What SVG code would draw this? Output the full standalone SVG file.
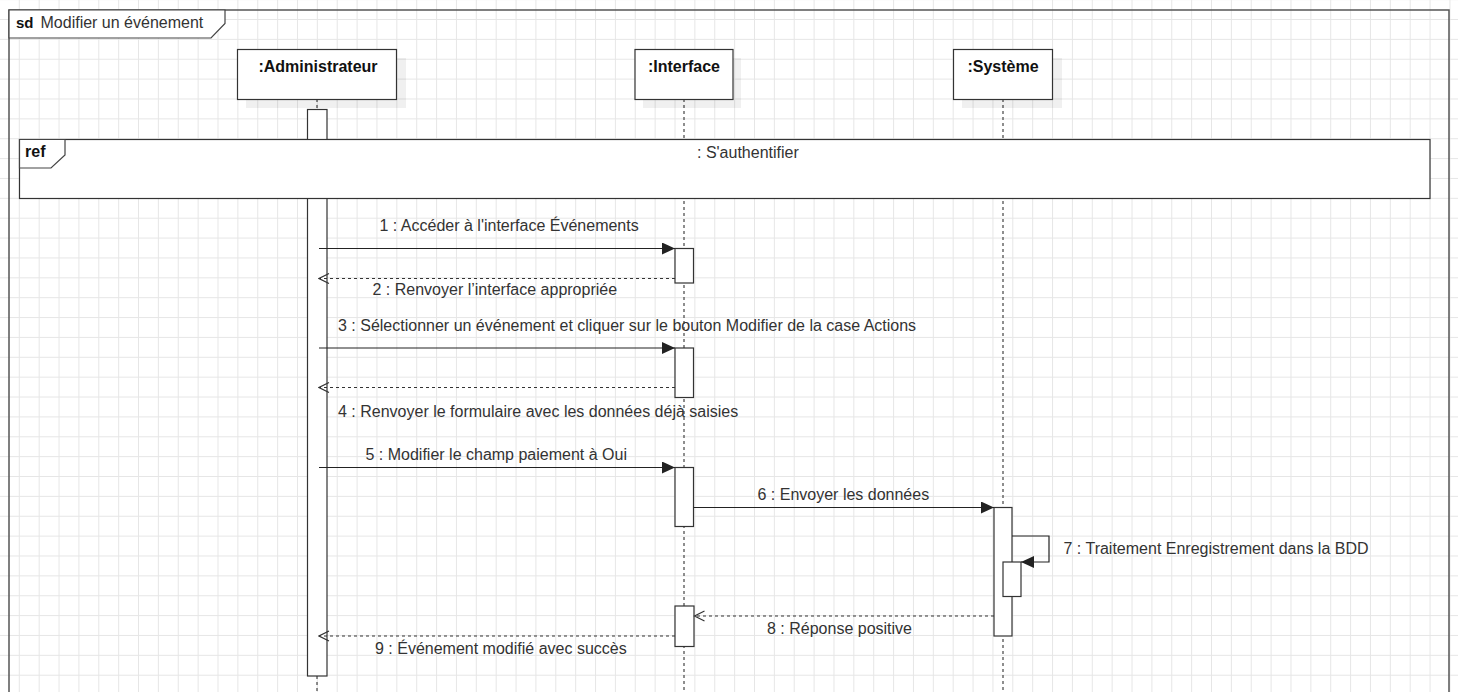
<svg xmlns="http://www.w3.org/2000/svg" width="1458" height="692" viewBox="0 0 1458 692">
  <defs>
    <pattern id="grid" patternUnits="userSpaceOnUse" x="18.8" y="19" width="19.87" height="19.87">
      <path d="M0.5 0 V19.87 M0 0.5 H19.87" fill="none" stroke="#e6e6e6" stroke-width="1"/>
    </pattern>
    <marker id="solidHead" markerUnits="userSpaceOnUse" markerWidth="14" markerHeight="13" refX="13" refY="6" orient="auto">
      <path d="M0,0 L13,6 L0,12 z" fill="#222"/>
    </marker>
    <marker id="openHead" markerUnits="userSpaceOnUse" markerWidth="12" markerHeight="12" refX="10.5" refY="5.5" orient="auto">
      <path d="M0.5,0.5 L10.5,5.5 L0.5,10.5" fill="none" stroke="#333" stroke-width="1.2"/>
    </marker>
    <style>
      .frame { fill: none; stroke: #555; stroke-width: 1.5; }
      .tab { fill: #fff; stroke: #444; stroke-width: 1.2; }
      .box { fill: #fff; stroke: #333; stroke-width: 1.2; }
      .shadow { fill: #000; opacity: 0.06; }
      .act { fill: #fff; stroke: #333; stroke-width: 1.2; }
      .life { stroke: #444; stroke-width: 1.2; stroke-dasharray: 3 3; fill: none; }
      .msg { stroke: #222; stroke-width: 1.2; fill: none; marker-end: url(#solidHead); }
      .ret { stroke: #333; stroke-width: 1.2; fill: none; stroke-dasharray: 3 3; marker-end: url(#openHead); }
      text { font-family: "Liberation Sans", Arial, sans-serif; font-size: 16px; fill: #333; }
      .b { font-weight: bold; fill: #111; }
      .head { font-weight: bold; fill: #111; text-anchor: middle; }
    </style>
  </defs>

  <!-- background grid -->
  <rect x="0" y="0" width="1458" height="692" fill="#fff"/>
  <rect x="0" y="0" width="1458" height="692" fill="url(#grid)"/>

  <!-- sd frame -->
  <g id="sd-frame">
    <rect class="frame" x="9" y="10" width="1440" height="700"/>
    <path class="tab" d="M9,10 H225 V23.5 L211,38 H9 Z"/>
    <text class="b" x="16" y="28" style="font-size:15px">sd</text>
    <text x="40.5" y="28">Modifier un événement</text>
  </g>

  <!-- lifelines (dashed) -->
  <g id="lifelines">
    <line class="life" x1="317" y1="99" x2="317" y2="109"/>
    <line class="life" x1="317" y1="676" x2="317" y2="692"/>
    <line class="life" x1="684" y1="99" x2="684" y2="692"/>
    <line class="life" x1="1003" y1="99" x2="1003" y2="692"/>
  </g>

  <!-- participant heads -->
  <g id="admin">
    <rect class="shadow" x="246" y="58" width="160" height="50"/>
    <rect class="box" x="237.5" y="49.5" width="159" height="50"/>
    <text class="head" x="318" y="72">:Administrateur</text>
  </g>
  <g id="interface">
    <rect class="shadow" x="643" y="58" width="98" height="50"/>
    <rect class="box" x="635" y="49.5" width="98" height="50"/>
    <text class="head" x="684" y="72">:Interface</text>
  </g>
  <g id="systeme">
    <rect class="shadow" x="962" y="58" width="100" height="50"/>
    <rect class="box" x="953.5" y="49.5" width="99" height="50"/>
    <text class="head" x="1003" y="72">:Système</text>
  </g>

  <!-- activation bars -->
  <g id="activations">
    <rect class="act" x="307.5" y="109.5" width="19.5" height="566.5"/>
    <rect class="act" x="675" y="248.5" width="18.5" height="34.5"/>
    <rect class="act" x="675" y="348" width="18.5" height="49.5"/>
    <rect class="act" x="675" y="467.5" width="18.5" height="59"/>
    <rect class="act" x="675" y="606" width="19" height="40.5"/>
    <rect class="act" x="994" y="507.5" width="18" height="128.5"/>
    <rect class="act" x="1003" y="562" width="18" height="34.5"/>
  </g>

  <!-- interaction reference -->
  <g id="ref-authentifier">
    <rect class="box" x="19.5" y="139.5" width="1410.5" height="59"/>
    <path class="tab" d="M19.5,139.5 H65 V155 L51,168 H19.5 Z"/>
    <text class="b" x="25" y="157">ref</text>
    <text x="697" y="158">: S'authentifier</text>
  </g>

  <!-- messages -->
  <g id="connectors">
    <line class="msg" x1="319" y1="248.5" x2="675" y2="248.5"/>
    <line class="ret" x1="675" y1="278.5" x2="319" y2="278.5"/>
    <line class="msg" x1="319" y1="348" x2="675" y2="348"/>
    <line class="ret" x1="675" y1="387.5" x2="319" y2="387.5"/>
    <line class="msg" x1="319" y1="467.5" x2="675" y2="467.5"/>
    <line class="msg" x1="693.5" y1="507.5" x2="994" y2="507.5"/>
    <polyline class="msg" points="1012,536 1049,536 1049,562 1021,562"/>
    <line class="ret" x1="994" y1="616" x2="694.5" y2="616"/>
    <line class="ret" x1="675" y1="636" x2="319" y2="636"/>
  </g>

  <!-- message labels -->
  <g id="labels">
    <text x="379.5" y="231">1 : Accéder à l'interface Événements</text>
    <text x="372.5" y="295">2 : Renvoyer l’interface appropriée</text>
    <text x="338" y="331">3 : Sélectionner un événement et cliquer sur le bouton Modifier de la case Actions</text>
    <text x="338" y="417">4 : Renvoyer le formulaire avec les données déjà saisies</text>
    <text x="365.5" y="460">5 : Modifier le champ paiement à Oui</text>
    <text x="757.5" y="500">6 : Envoyer les données</text>
    <text x="1063.5" y="553.5">7 : Traitement Enregistrement dans la BDD</text>
    <text x="767" y="634">8 : Réponse positive</text>
    <text x="375" y="653.5">9 : Événement modifié avec succès</text>
  </g>
</svg>
